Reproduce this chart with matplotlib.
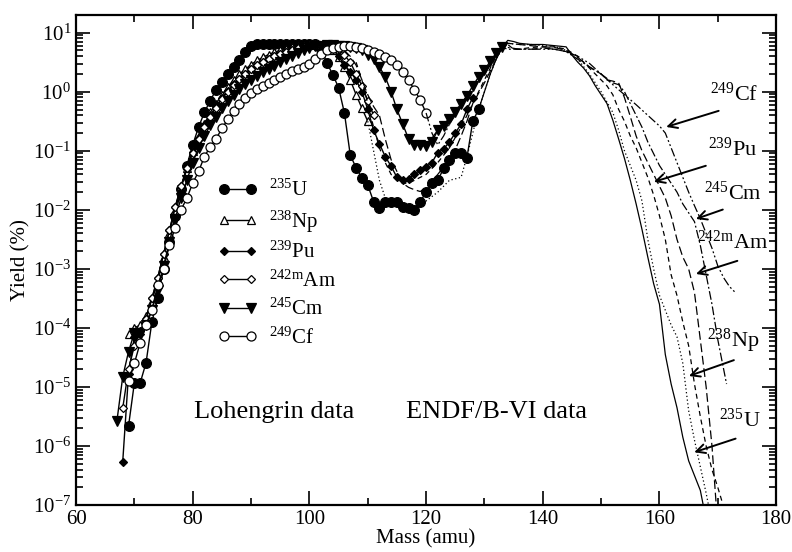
import numpy as np
import matplotlib.pyplot as plt
from matplotlib.ticker import LogLocator, AutoMinorLocator, NullFormatter

plt.rcParams['font.family'] = ['Liberation Serif', 'DejaVu Serif']
plt.rcParams['mathtext.fontset'] = 'custom'
plt.rcParams['mathtext.rm'] = 'Liberation Serif'
plt.rcParams['mathtext.it'] = 'Liberation Serif:italic'

# Lohengrin data (log10 of yield in %), one point per mass unit
u235_mass = np.arange(69, 130)
u235_logy = [-5.66, -4.93, -4.93, -4.59, -3.9, -3.5, -3.0, -2.55, -2.1, -1.65,
             -1.25, -0.9, -0.6, -0.35, -0.15, 0.03, 0.17, 0.3, 0.42, 0.54,
             0.68, 0.78, 0.8, 0.8, 0.8, 0.81, 0.8, 0.8, 0.81, 0.8,
             0.8, 0.81, 0.8, 0.72, 0.49, 0.29, 0.07, -0.36, -1.07, -1.29,
             -1.46, -1.58, -1.86, -1.97, -1.86, -1.86, -1.86, -1.95, -1.97, -2.0,
             -1.86, -1.7, -1.54, -1.5, -1.3, -1.15, -1.03, -1.03, -1.12, -0.5,
             -0.3]

np238_mass = np.arange(69, 111)
np238_logy = [-4.1, -4.0, -3.95, -3.8, -3.55, -3.2, -2.8, -2.4, -2.0, -1.6,
              -1.3, -1.0, -0.75, -0.55, -0.35, -0.2, -0.05, 0.08, 0.2, 0.3,
              0.38, 0.46, 0.53, 0.58, 0.63, 0.67, 0.7, 0.73, 0.75, 0.77,
              0.78, 0.79, 0.8, 0.79, 0.76, 0.7, 0.58, 0.42, 0.2, -0.05,
              -0.28, -0.5]

pu239_mass = np.arange(68, 129)
pu239_logy = [-6.27, -4.78, -4.15, -4.1, -3.85, -3.5, -3.15, -2.75, -2.35, -1.95,
              -1.6, -1.3, -1.02, -0.78, -0.58, -0.4, -0.25, -0.1, 0.02, 0.13,
              0.22, 0.3, 0.38, 0.45, 0.5, 0.56, 0.6, 0.64, 0.68, 0.71,
              0.73, 0.75, 0.77, 0.78, 0.78, 0.77, 0.72, 0.6, 0.46, 0.34,
              0.2, 0.0, -0.3, -0.65, -0.88, -1.1, -1.26, -1.45, -1.5, -1.48,
              -1.4, -1.32, -1.27, -1.2, -1.03, -0.97, -0.85, -0.7, -0.55, -0.3,
              -0.1]

am242m_mass = np.arange(68, 112)
am242m_logy = [-5.36, -4.7, -4.3, -4.05, -3.85, -3.5, -3.15, -2.75, -2.35, -1.95,
               -1.6, -1.3, -1.03, -0.8, -0.6, -0.42, -0.27, -0.12, 0.0, 0.12,
               0.22, 0.3, 0.38, 0.45, 0.5, 0.55, 0.6, 0.64, 0.68, 0.71,
               0.74, 0.76, 0.77, 0.78, 0.78, 0.78, 0.76, 0.72, 0.62, 0.5,
               0.3, 0.1, -0.15, -0.4]

cm245_mass = np.arange(67, 134)
cm245_logy = [-5.58, -4.83, -4.4, -4.08, -4.08, -3.95, -3.7, -3.35, -2.95, -2.55,
              -2.15, -1.8, -1.5, -1.2, -0.95, -0.75, -0.57, -0.42, -0.28, -0.15,
              -0.05, 0.05, 0.13, 0.2, 0.27, 0.33, 0.38, 0.44, 0.5, 0.55,
              0.6, 0.65, 0.7, 0.74, 0.77, 0.78, 0.79, 0.79, 0.78, 0.77,
              0.76, 0.74, 0.7, 0.63, 0.55, 0.42, 0.25, 0.0, -0.3, -0.55,
              -0.8, -0.9, -0.9, -0.92, -0.85, -0.65, -0.58, -0.47, -0.35, -0.2,
              -0.07, 0.1, 0.25, 0.36, 0.52, 0.65, 0.75]

cf249_mass = np.arange(69, 121)
cf249_logy = [-4.9, -4.6, -4.25, -3.95, -3.7, -3.27, -3.0, -2.6, -2.3, -2.0,
              -1.8, -1.55, -1.35, -1.1, -0.93, -0.8, -0.62, -0.47, -0.33, -0.2,
              -0.1, -0.02, 0.05, 0.1, 0.15, 0.2, 0.25, 0.3, 0.35, 0.38,
              0.42, 0.47, 0.55, 0.64, 0.7, 0.74, 0.76, 0.77, 0.77, 0.76,
              0.74, 0.7, 0.67, 0.64, 0.58, 0.53, 0.46, 0.34, 0.2, 0.03,
              -0.14, -0.36]

# ENDF/B-VI data (log10 of yield in %)
u235_endf_mass = [129, 130, 131, 132, 133, 134, 135, 136, 138, 140, 142, 144,
                  145, 146, 147, 148, 149, 150, 151, 152, 153, 154, 155, 156,
                  157, 158, 159, 160, 161, 162, 163, 164, 165, 166, 167, 167.7]
u235_endf_logy = [-0.3, 0.0, 0.3, 0.55, 0.75, 0.87, 0.85, 0.82, 0.8, 0.8, 0.78, 0.76,
                  0.62, 0.5, 0.4, 0.27, 0.1, -0.05, -0.2, -0.48, -0.8, -1.13, -1.5, -1.9,
                  -2.33, -2.8, -3.25, -3.6, -4.45, -4.95, -5.35, -5.85, -6.25, -6.5, -6.75, -7.1]

np238_endf_mass = [110, 111, 112, 113, 114, 116, 118, 120, 122, 124, 126,
                   127, 128, 129, 130, 131, 132, 133, 134,
                   136, 138, 140, 142, 144, 146, 148, 150, 152,
                   153, 154, 155, 156, 157, 158, 159, 160, 161, 162, 163, 164,
                   165, 166, 167, 168, 168.6]
np238_endf_logy = [-0.5, -1.0, -1.5, -1.8, -1.88, -1.95, -1.97, -1.85, -1.7, -1.5, -1.45,
                   -1.1, -0.7, -0.3, 0.0, 0.3, 0.55, 0.72, 0.82,
                   0.8, 0.8, 0.78, 0.77, 0.7, 0.55, 0.3, 0.0, -0.35,
                   -0.65, -1.0, -1.25, -1.5, -1.85, -2.5, -3.0, -3.45, -3.7, -3.95, -4.15, -4.6,
                   -5.4, -5.9, -6.35, -6.8, -7.1]

pu239_endf_mass = [108, 109, 110, 111, 112, 113, 114, 115, 116, 117, 118,
                   120, 122, 124, 126, 128, 130, 132, 133, 134, 135, 136,
                   138, 140, 142, 144, 146, 148, 150,
                   151, 152, 153, 154, 155, 156, 157, 158, 159, 160,
                   161, 162, 163, 164, 165, 166, 167, 168, 169, 170, 171.2]
pu239_endf_logy = [0.5, 0.2, -0.2, -0.6, -0.95, -1.2, -1.4, -1.5, -1.55, -1.55, -1.5,
                   -1.4, -1.2, -0.95, -0.6, -0.2, 0.2, 0.6, 0.78, 0.8, 0.72, 0.72,
                   0.75, 0.76, 0.76, 0.72, 0.6, 0.4, 0.2,
                   0.1, -0.05, -0.3, -0.5, -0.75, -0.95, -1.2, -1.45, -1.75, -2.1,
                   -2.5, -3.1, -3.45, -3.9, -4.3, -4.95, -5.5, -6.0, -6.4, -6.7, -7.1]

am242m_endf_mass = [106, 107, 108, 109, 110, 111, 112, 113, 114, 115, 116, 117,
                    118, 119, 120, 121, 122, 124, 125, 126, 127, 128, 130, 132,
                    133, 134, 136, 138, 140, 142, 144, 146, 148, 150,
                    151, 152, 153, 154, 155, 156, 157, 158, 159, 160,
                    161, 162, 163, 164, 165, 166, 167, 168, 169, 169.8]
am242m_endf_logy = [0.7, 0.6, 0.45, 0.2, -0.05, -0.25, -0.4, -0.8, -1.15, -1.35, -1.55, -1.62,
                    -1.66, -1.69, -1.62, -1.52, -1.4, -1.15, -0.98, -0.75, -0.5, -0.2, 0.15, 0.55,
                    0.75, 0.82, 0.8, 0.78, 0.76, 0.75, 0.7, 0.58, 0.42, 0.3,
                    0.2, 0.18, 0.15, -0.1, -0.42, -0.75, -1.0, -1.2, -1.4, -1.6,
                    -1.8, -2.1, -2.5, -2.8, -3.0, -3.4, -4.2, -5.0, -6.0, -7.1]

cm245_endf_mass = [117, 118, 120, 122, 124, 126, 128, 130, 132, 133, 134,
                   136, 138, 140, 142, 144, 146, 148, 150, 152,
                   153, 154, 155, 156, 157, 158, 159, 160, 161, 162,
                   163, 164, 165, 166, 167, 168, 169, 170, 171, 171.5]
cm245_endf_logy = [-0.8, -0.9, -0.92, -0.65, -0.45, -0.2, 0.05, 0.35, 0.62, 0.75, 0.72,
                   0.72, 0.72, 0.74, 0.72, 0.68, 0.55, 0.42, 0.3, 0.15,
                   0.12, 0.0, -0.2, -0.4, -0.6, -0.85, -1.05, -1.25, -1.4, -1.55,
                   -1.7, -1.9, -2.05, -2.2, -2.6, -3.1, -3.6, -4.2, -4.7, -4.95]

cf249_endf_mass = [120, 121, 122, 123, 124, 126, 128, 130, 132, 133, 134,
                   136, 138, 140, 142, 144, 146, 148, 150, 152, 154, 156, 158, 160,
                   161, 162, 163, 164, 165, 166, 167, 168, 169, 170, 171, 172, 173]
cf249_endf_logy = [-0.36, -0.7, -0.9, -0.75, -0.55, -0.25, 0.05, 0.3, 0.6, 0.72, 0.75,
                   0.72, 0.72, 0.72, 0.72, 0.68, 0.6, 0.48, 0.3, 0.12, -0.05, -0.22, -0.4, -0.58,
                   -0.7, -0.95, -1.2, -1.45, -1.7, -1.93, -2.15, -2.4, -2.65, -2.95, -3.15, -3.3, -3.4]

labels = [r'$^{235}$U', r'$^{238}$Np', r'$^{239}$Pu',
          r'$^{\mathrm{242m}}$Am', r'$^{245}$Cm', r'$^{249}$Cf']

# right hand labels: (text pos mass, log y), arrow tail, arrow tip
arrow_labels = [
    (r'$^{249}$Cf', (172.8, -0.05), (170.6, -0.31), (160.7, -0.61)),
    (r'$^{239}$Pu', (172.6, -0.97), (168.4, -1.24), (158.6, -1.54)),
    (r'$^{245}$Cm', (172.6, -1.71), (171.3, -1.98), (165.8, -2.17)),
    (r'$^{\mathrm{242m}}$Am', (172.6, -2.54), (173.8, -2.85), (165.8, -3.10)),
    (r'$^{238}$Np', (172.6, -4.22), (173.2, -4.53), (164.6, -4.83)),
    (r'$^{235}$U', (173.7, -5.56), (173.5, -5.86), (165.5, -6.12)),
]

fig = plt.figure(figsize=(7.92, 5.52), dpi=100)
ax = fig.add_axes([0.096, 0.085, 0.884, 0.888])

lohengrin = [(u235_mass, u235_logy, 'o', 'k', 7),
             (np238_mass, np238_logy, '^', 'w', 6),
             (pu239_mass, pu239_logy, 'D', 'k', 4.5),
             (am242m_mass, am242m_logy, 'D', 'w', 4.5),
             (cm245_mass, cm245_logy, 'v', 'k', 6.5),
             (cf249_mass, cf249_logy, 'o', 'w', 6.5)]

for (m, ly, mk, fc, ms), lab in zip(lohengrin, labels):
    ax.plot(m, 10 ** np.array(ly), '-', color='k', lw=1, marker=mk,
            markerfacecolor=fc, markeredgecolor='k', markeredgewidth=0.9,
            markersize=ms, label=lab)

endf = [(u235_endf_mass, u235_endf_logy, '-'),
        (np238_endf_mass, np238_endf_logy, (0, (1, 2))),
        (pu239_endf_mass, pu239_endf_logy, (0, (4, 3))),
        (am242m_endf_mass, am242m_endf_logy, (0, (7, 3))),
        (cm245_endf_mass, cm245_endf_logy, (0, (7, 2, 1.5, 2))),
        (cf249_endf_mass, cf249_endf_logy, (0, (7, 2, 1.5, 2, 1.5, 2)))]
for m, ly, ls in endf:
    ax.plot(m, 10 ** np.array(ly), color='k', lw=0.9, linestyle=ls)

for txt, pos, tail, tip in arrow_labels:
    ax.text(pos[0], 10 ** pos[1], txt, fontsize=16, ha='center', va='center')
    ax.annotate('', xy=(tip[0], 10 ** tip[1]), xytext=(tail[0], 10 ** tail[1]),
                arrowprops=dict(arrowstyle='->', lw=1.4, color='k', mutation_scale=16))

ax.text(94, 10 ** -5.42, 'Lohengrin data', fontsize=19, ha='center', va='center')
ax.text(132, 10 ** -5.42, 'ENDF/B-VI data', fontsize=19, ha='center', va='center')

ax.set_yscale('log')
ax.set_xlim(60, 180)
ax.set_ylim(1e-7, 20)
ax.set_xticks([60, 80, 100, 120, 140, 160, 180])
ax.xaxis.set_minor_locator(AutoMinorLocator(2))
ax.yaxis.set_major_locator(LogLocator(base=10, numticks=20))
ax.yaxis.set_minor_locator(LogLocator(base=10, subs=np.arange(2, 10), numticks=20))
ax.yaxis.set_minor_formatter(NullFormatter())
ax.tick_params(which='both', direction='in', top=True, right=True, labelsize=15, width=1.2)
ax.tick_params(which='major', length=10)
ax.tick_params(which='minor', length=5)
for sp in ax.spines.values():
    sp.set_linewidth(1.6)

ax.set_xlabel('Mass (amu)', fontsize=15, labelpad=0)
ax.set_ylabel('Yield (%)', fontsize=15, labelpad=2)

ax.legend(loc='upper left', bbox_to_anchor=(0.19, 0.68), frameon=False, fontsize=15,
          numpoints=2, handlelength=1.9, handletextpad=0.6, labelspacing=0.35,
          borderaxespad=0)

fig.savefig('out.png', dpi=100)
